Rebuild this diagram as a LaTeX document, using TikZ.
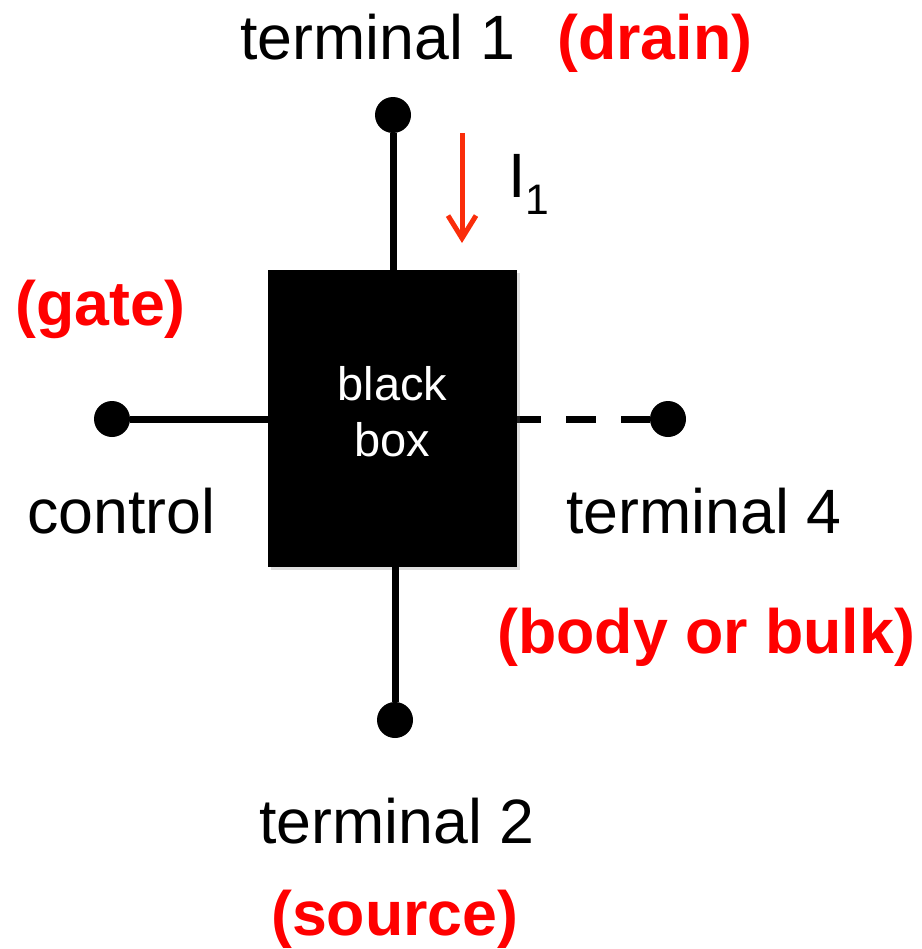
\documentclass[tikz,border=0pt]{standalone}
\usepackage{fontspec}
\setmainfont{Liberation Sans}
\usetikzlibrary{arrows.meta,shadows}
\definecolor{labelred}{RGB}{255,0,0}
\definecolor{currentred}{RGB}{250,45,10}
\begin{document}
\begin{tikzpicture}[x=0.75pt,y=-0.75pt,
  lead/.style={line width=5.25pt},
  pin/.style={circle,fill=black,inner sep=0pt,minimum size=27pt},
  txt/.style={anchor=base west,inner sep=0pt,font=\fontsize{47}{56}\selectfont},
  role/.style={txt,text=labelred,font=\fontsize{47}{56}\selectfont\bfseries},
  blackbox/.style={rectangle,fill=black,inner sep=0pt,minimum width=186.75pt,minimum height=222.75pt,
    drop shadow={shadow xshift=2.5pt,shadow yshift=-2.5pt,opacity=0.25}}]
  \useasboundingbox (0,0) rectangle (921,949);

  % terminals
  \node[pin] (t1) at (393,115) {};
  \node[pin] (t2) at (395,720) {};
  \node[pin] (gate) at (112,419) {};
  \node[pin] (bulk) at (668,419) {};
  \coordinate (bulkstart) at (511,419);

  % dashed lead to the body terminal runs under the box
  \draw[lead,dash pattern=on 22.5pt off 18.75pt] (bulkstart) -- (bulk);

  % the black box
  \node[blackbox] (box) at (392.5,418.5) {};
  \node[align=center,text=white,inner sep=0pt,font=\fontsize{35.25}{42}\selectfont] (boxlabel) at (392.5,412) {black\\box};

  % solid leads
  \draw[lead] (t1) -- (t1 |- box.north);
  \draw[lead] (t2) -- (t2 |- box.south);
  \draw[lead] (gate) -- (gate -| box.west);

  % drain current
  \coordinate (istart) at (462,133);
  \coordinate (iend) at (462,243);
  \draw[currentred,line width=3.75pt,-{Straight Barb[length=17pt,width=21pt,line width=3.75pt]}] (istart) -- (iend);
  \node[txt] (ilabel) at (508,197) {I\raisebox{-12.75pt}{\fontsize{32}{36}\selectfont 1}};

  % labels
  \node[txt] (term1) at (240,60) {terminal 1};
  \node[role] (drain) at (557,60) {(drain)};
  \node[role] (gatelbl) at (15,325) {(gate)};
  \node[txt] (control) at (27,533) {control};
  \node[txt] (term4) at (566,533) {terminal 4};
  \node[role] (bodylbl) at (497,653) {(body or bulk)};
  \node[txt] (term2) at (259,843) {terminal 2};
  \node[role] (source) at (271,935) {(source)};
\end{tikzpicture}
\end{document}
